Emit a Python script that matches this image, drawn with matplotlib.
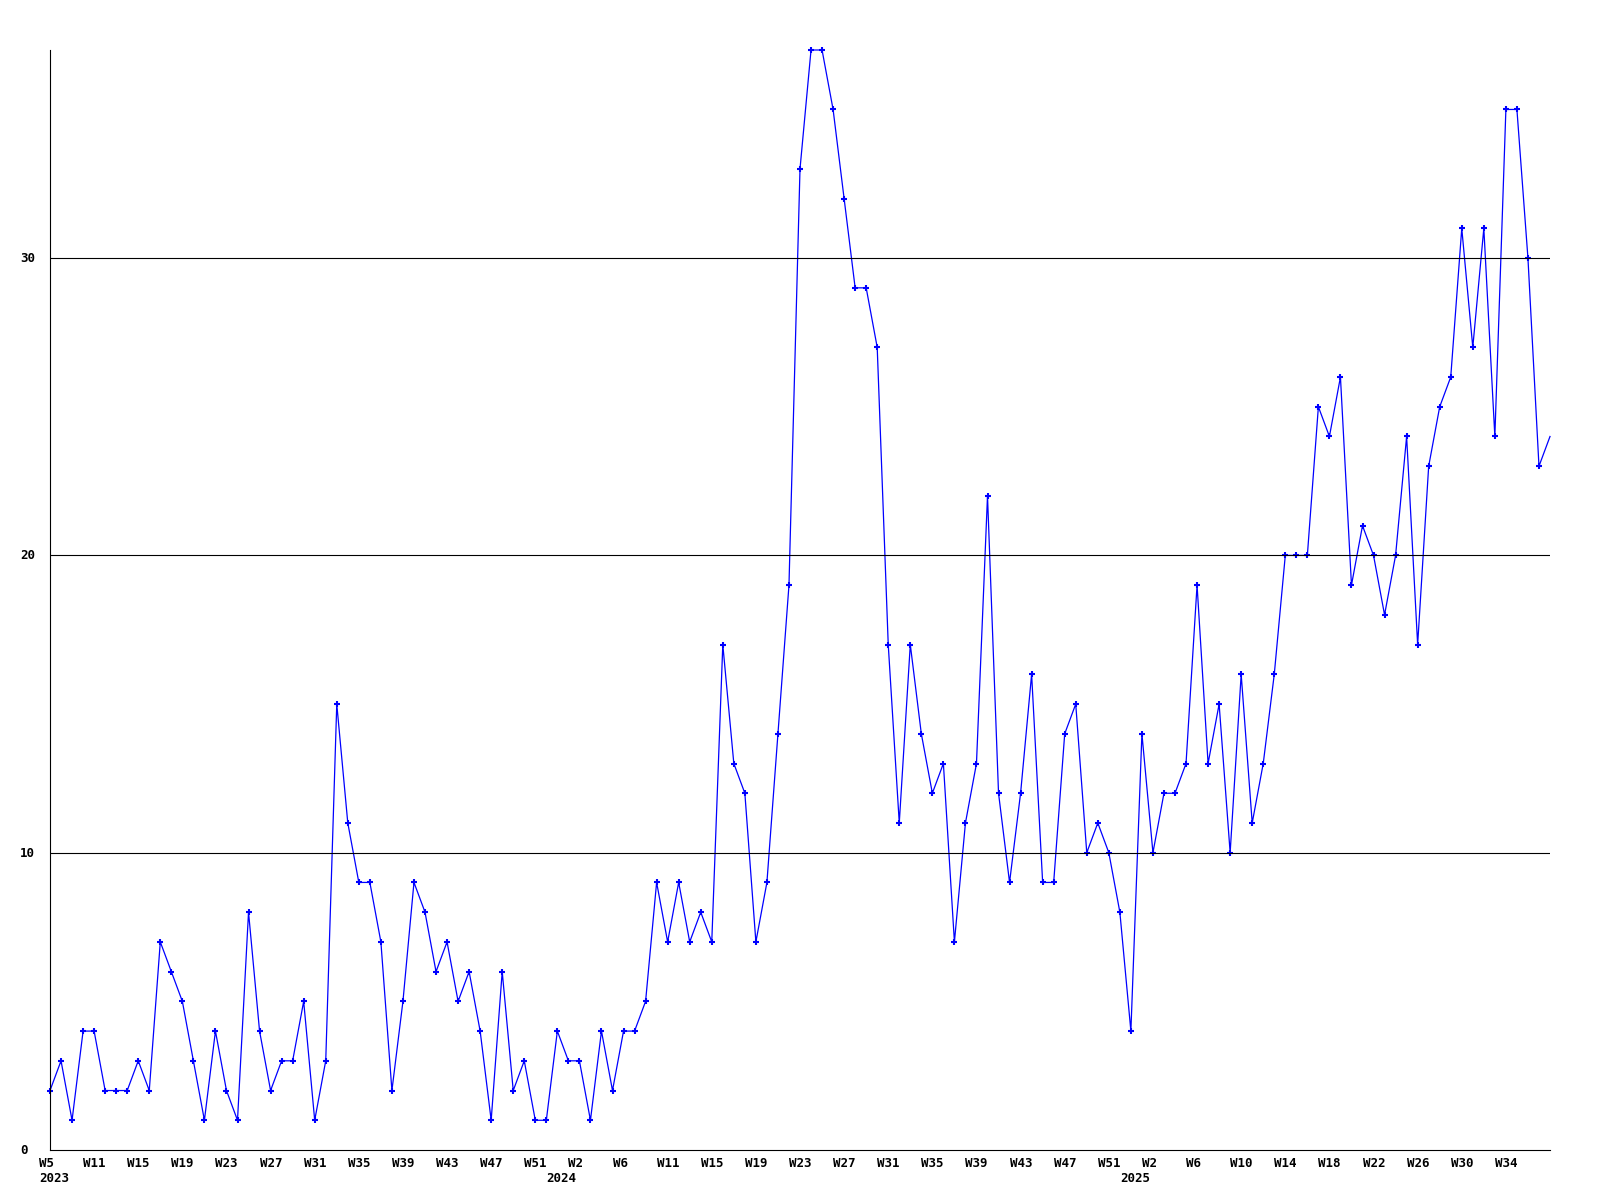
import numpy as np
import matplotlib
matplotlib.use("Agg")
import matplotlib.pyplot as plt

# weekly counts, one per week, first point at the left axis
counts = [2, 3, 1, 4, 4, 2, 2, 2, 3, 2,
          7, 6, 5, 3, 1, 4, 2, 1, 8, 4,
          2, 3, 3, 5, 1, 3, 15, 11, 9, 9,
          7, 2, 5, 9, 8, 6, 7, 5, 6, 4,
          1, 6, 2, 3, 1, 1, 4, 3, 3, 1,
          4, 2, 4, 4, 5, 9, 7, 9, 7, 8,
          7, 17, 13, 12, 7, 9, 14, 19, 33, 37,
          37, 35, 32, 29, 29, 27, 17, 11, 17, 14,
          12, 13, 7, 11, 13, 22, 12, 9, 12, 16,
          9, 9, 14, 15, 10, 11, 10, 8, 4, 14,
          10, 12, 12, 13, 19, 13, 15, 10, 16, 11,
          13, 16, 20, 20, 20, 25, 24, 26, 19, 21,
          20, 18, 20, 24, 17, 23, 25, 26, 31, 27,
          31, 24, 35, 35, 30, 23, 24]

week_labels = ['W5', 'W11', 'W15', 'W19', 'W23', 'W27', 'W31', 'W35', 'W39',
               'W43', 'W47', 'W51', 'W2', 'W6', 'W11', 'W15', 'W19', 'W23',
               'W27', 'W31', 'W35', 'W39', 'W43', 'W47', 'W51', 'W2', 'W6',
               'W10', 'W14', 'W18', 'W22', 'W26', 'W30', 'W34']
years = ['2023', '2024', '2025']
year_points = [0, 46, 98]
y_labels = [0, 10, 20, 30]

FONT = dict(family='DejaVu Sans Mono', fontweight='bold', fontsize=9)
PX = 0.72  # points per pixel at 100 dpi

fig = plt.figure(figsize=(16, 12), dpi=100)
ax = fig.add_axes([50 / 1600, 50 / 1200, 1500 / 1600, 1100 / 1200])

x = np.arange(len(counts))
ax.plot(x, counts, color='#0000ff', lw=0.9, marker='+', ms=4.5, mew=1.5,
        markevery=list(range(len(counts) - 1)), zorder=2, clip_on=False)

ax.set_xlim(0, len(counts) - 1)
ax.set_ylim(0, 37)
ax.set_xticks([])
ax.set_yticks([])

for v in y_labels[1:]:
    ax.axhline(v, color='black', lw=0.8, zorder=3)

for s in ['top', 'right']:
    ax.spines[s].set_visible(False)
for s in ['left', 'bottom']:
    ax.spines[s].set_color('black')
    ax.spines[s].set_linewidth(0.8)
    ax.spines[s].set_zorder(3)

# week labels every 4th point, left edge a bit before the point
for i, lab in enumerate(week_labels):
    ax.annotate(lab, xy=(i * 4, 0), xycoords=('data', 'axes fraction'),
                xytext=(-11 * PX, -17 * PX), textcoords='offset points',
                ha='left', va='baseline', annotation_clip=False, **FONT)

for p, yr in zip(year_points, years):
    ax.annotate(yr, xy=(p, 0), xycoords=('data', 'axes fraction'),
                xytext=(-11 * PX, -32 * PX), textcoords='offset points',
                ha='left', va='baseline', annotation_clip=False, **FONT)

for v in y_labels:
    ax.annotate(str(v), xy=(20, v), xycoords=('figure pixels', 'data'),
                xytext=(0, -4 * PX), textcoords='offset points',
                ha='left', va='baseline', annotation_clip=False, **FONT)

fig.savefig('out.png', dpi=100)
